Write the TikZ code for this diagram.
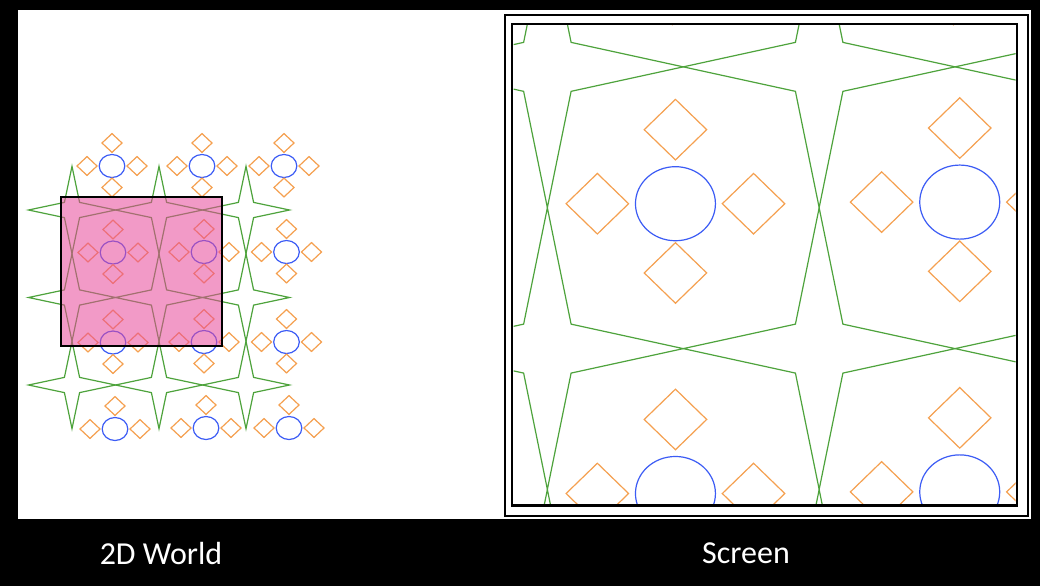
\documentclass[tikz,border=0pt]{standalone}
\usepackage{fontspec}
\setmainfont{Carlito}
\usetikzlibrary{positioning}

\definecolor{stargreen}{RGB}{78,163,60}
\definecolor{gemorange}{RGB}{245,160,80}
\definecolor{ballblue}{RGB}{60,92,245}
\definecolor{viewpink}{RGB}{232,72,154}

\tikzset{
  starline/.style={draw=stargreen, line width=1.2pt, line join=miter},
  gemline/.style={draw=gemorange, line width=1.2pt},
  ballline/.style={draw=ballblue, line width=1.2pt},
  caption/.style={text=white, font=\fontsize{32}{38}\selectfont}
}

% the tiled world, in pixel units
\newcommand{\gem}[2]{\draw[gemline, shift={(#1,#2)}] (0,-9.4) -- (10,0) -- (0,9.4) -- (-10,0) -- cycle;}
\newcommand{\worldtiles}{%
  \foreach \cx in {72,159,246}{
    \foreach \cy in {210,297.5,385}{
      \draw[starline, shift={(\cx,\cy)}] (0,-43.7) -- (7.6,-7.6) -- (43.5,0) -- (7.6,7.6)
        -- (0,43.7) -- (-7.6,7.6) -- (-43.5,0) -- (-7.6,-7.6) -- cycle;
    }
  }
  \foreach \px/\py in {112/166, 202/166, 284/166, 113/252.5, 204/252, 286.5/252,
                       113/342.5, 204/342, 286.5/342, 115/429, 206/428, 289/428}{
    \draw[ballline] (\px,\py) ellipse (12.8 and 11.5);
    \gem{\px}{\py-23}
    \gem{\px-25}{\py}
    \gem{\px+25}{\py}
  }
  % lower gems, not on the last row
  \foreach \px/\py in {112/166, 202/166, 284/166, 113/252.5, 204/252, 286.5/252,
                       113/342.5, 204/342, 286.5/342}{
    \gem{\px}{\py+21.5}
  }%
}

\begin{document}
\begin{tikzpicture}[x=1pt, y=-1pt]
\useasboundingbox (0,0) rectangle (1040,586);
\fill[black] (0,0) rectangle (1040,586);
\fill[white] (18,10) rectangle (1031,519);

% world
\worldtiles
\fill[viewpink, opacity=0.55] (61,197) rectangle (222,346);
\draw[black, line width=2.2pt] (61,197) rectangle (222,346);

% screen
\begin{scope}
  \clip (513.5,25.5) rectangle (1015.5,504);
  \begin{scope}[shift={(513,25)}, xscale=3.124, yscale=3.22, shift={(-61,-197)}]
    \worldtiles
  \end{scope}
\end{scope}
\draw[black, line width=1.5pt] (505,15) rectangle (1028,516);
\draw[black, line width=2.4pt] (512,24) rectangle (1017,505.5);

\node[caption] (worldcap) at (161,553) {2D World};
\node[caption] (screencap) at (746,553) {Screen};
\end{tikzpicture}
\end{document}
